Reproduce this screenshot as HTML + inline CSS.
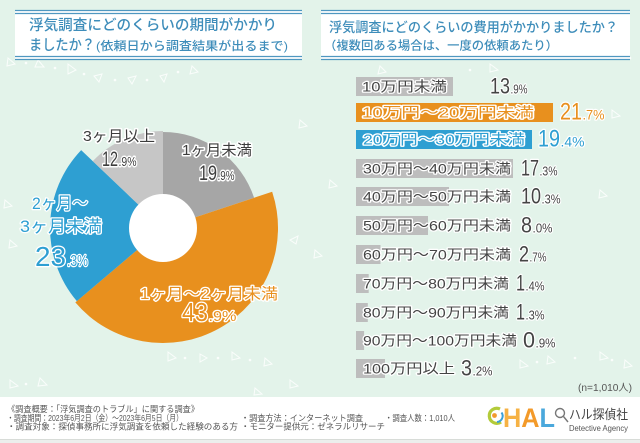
<!DOCTYPE html>
<html><head><meta charset="utf-8"><style>
html,body{margin:0;padding:0;background:#e3f3ea;}
svg{display:block;}
text{font-family:"Liberation Sans","Noto Sans CJK JP",sans-serif;}
.t{fill:#3e8dba;font-weight:500;}
.dk{fill:#3d3d3d;stroke:#fff;stroke-width:3;paint-order:stroke;stroke-linejoin:round;}
.dk2{fill:#444;stroke:#fff;stroke-width:2.5;paint-order:stroke;stroke-linejoin:round;}
.or{fill:#e8901e;stroke:#fff;stroke-width:2.6;paint-order:stroke;stroke-linejoin:round;}
.bl{fill:#2e9fd2;stroke:#fff;stroke-width:2.6;paint-order:stroke;stroke-linejoin:round;}
.ft{fill:#555;font-size:8.5px;}
</style></head><body>
<svg width="640" height="443" viewBox="0 0 640 443" xmlns="http://www.w3.org/2000/svg">
<rect width="640" height="443" fill="#e3f3ea"/>
<!-- decorations -->
<g fill="none" stroke="#fff" stroke-width="1" opacity="0.85">
<path d="M8 58 L15 64 L7 66 Z"/><path d="M38 60 L44 67 L35 67 Z"/><path d="M68 64 L76 70 L68 74 Z"/>
<path d="M94 76 L102 74 L99 82 Z"/><path d="M128 78 L136 76 L132 84 Z"/><path d="M160 76 L167 74 L164 82 Z"/>
<path d="M192 66 L198 72 L190 74 Z"/><path d="M300 120 L307 126 L299 128 Z"/><path d="M290 240 L298 236 L296 244 Z"/>
<path d="M315 250 L322 256 L314 258 Z"/><path d="M10 240 L17 246 L9 248 Z"/><path d="M5 200 L12 206 L4 208 Z"/>
<path d="M168 352 L176 358 L168 361 Z"/><path d="M200 354 L207 358 L200 362 Z"/><path d="M232 352 L240 358 L232 360 Z"/>
<path d="M265 358 L272 364 L264 366 Z"/><path d="M10 380 L18 386 L10 388 Z"/><path d="M40 378 L47 385 L38 386 Z"/>
<path d="M290 380 L298 386 L290 388 Z"/><path d="M255 388 L262 394 L254 395 Z"/><path d="M520 360 L528 366 L520 368 Z"/>
<path d="M548 356 L555 362 L547 364 Z"/><path d="M600 352 L608 358 L600 360 Z"/><path d="M625 360 L632 366 L624 368 Z"/>
<path d="M380 66 L386 72 L378 74 Z"/><path d="M490 64 L498 70 L490 72 Z"/><path d="M612 110 L620 116 L612 118 Z"/>
<path d="M600 190 L607 196 L599 198 Z"/><path d="M330 180 L337 186 L329 188 Z"/>
</g>
<g fill="#fff" opacity="0.85">
<circle cx="26" cy="63" r="1.3"/><circle cx="55" cy="68" r="1.3"/><circle cx="84" cy="74" r="1.3"/><circle cx="115" cy="80" r="1.3"/>
<circle cx="147" cy="80" r="1.3"/><circle cx="178" cy="72" r="1.3"/><circle cx="185" cy="358" r="1.3"/><circle cx="218" cy="358" r="1.3"/>
<circle cx="250" cy="360" r="1.3"/><circle cx="26" cy="384" r="1.3"/><circle cx="537" cy="362" r="1.3"/><circle cx="575" cy="358" r="1.3"/>
<circle cx="612" cy="360" r="1.3"/><circle cx="470" cy="70" r="1.3"/><circle cx="630" cy="58" r="1.3"/>
</g>

<!-- Left title -->
<rect x="15" y="10" width="287" height="50" fill="#fff"/>
<g stroke="#4f97c0" stroke-width="1.2">
<line x1="15" x2="302" y1="10.5" y2="10.5"/><line x1="15" x2="302" y1="13.5" y2="13.5"/>
<line x1="15" x2="302" y1="56.5" y2="56.5"/><line x1="15" x2="302" y1="59.5" y2="59.5"/>
</g>
<text class="t" x="29" y="30" font-size="14.5" textLength="248" lengthAdjust="spacingAndGlyphs">浮気調査にどのくらいの期間がかかり</text>
<text class="t" x="29" y="50" font-size="14.5" textLength="66" lengthAdjust="spacingAndGlyphs">ましたか？</text>
<text class="t" x="96" y="50" font-size="12" textLength="192" lengthAdjust="spacingAndGlyphs">(依頼日から調査結果が出るまで)</text>

<!-- Right title -->
<rect x="321" y="10" width="309" height="50" fill="#fff"/>
<g stroke="#4f97c0" stroke-width="1.2">
<line x1="321" x2="630" y1="10.5" y2="10.5"/><line x1="321" x2="630" y1="13.5" y2="13.5"/>
<line x1="321" x2="630" y1="56.5" y2="56.5"/><line x1="321" x2="630" y1="59.5" y2="59.5"/>
</g>
<text class="t" x="329" y="32" font-size="13.5" textLength="289" lengthAdjust="spacingAndGlyphs">浮気調査にどのくらいの費用がかかりましたか？</text>
<text class="t" x="324" y="49.5" font-size="12" textLength="234" lengthAdjust="spacingAndGlyphs">（複数回ある場合は、一度の依頼あたり）</text>

<!-- Donut -->
<path d="M163,228 L163,132 A96,96 0 0 1 254.11,197.76 Z" fill="#a6a6a6"/>
<path d="M163,228 L272.15,191.77 A115,115 0 0 1 75.32,302.42 Z" fill="#e8901e"/>
<path d="M163,228 L76.85,301.12 A113,113 0 0 1 81.17,150.08 Z" fill="#2e9fd2"/>
<path d="M163,228 L92.75,161.11 A97,97 0 0 1 163,131 Z" fill="#c6c6c6"/>
<circle cx="163" cy="228" r="34" fill="#fff"/>

<text class="dk" x="182" y="155" font-size="15" textLength="70" lengthAdjust="spacingAndGlyphs">1ヶ月未満</text>
<text class="dk" x="199" y="180" font-size="21" textLength="18" lengthAdjust="spacingAndGlyphs">19</text>
<text class="dk" x="217.5" y="180" font-size="13" textLength="17" lengthAdjust="spacingAndGlyphs">.9%</text>

<text class="dk" x="83" y="141" font-size="15" textLength="72" lengthAdjust="spacingAndGlyphs">3ヶ月以上</text>
<text class="dk" x="102" y="166" font-size="21" textLength="16" lengthAdjust="spacingAndGlyphs">12</text>
<text class="dk" x="118.5" y="166" font-size="13" textLength="18" lengthAdjust="spacingAndGlyphs">.9%</text>

<text class="bl" x="32" y="209" font-size="17" textLength="56" lengthAdjust="spacingAndGlyphs">2ヶ月〜</text>
<text class="bl" x="20" y="232" font-size="17" textLength="82" lengthAdjust="spacingAndGlyphs">3ヶ月未満</text>
<text class="bl" x="35" y="266" font-size="28" textLength="31" lengthAdjust="spacingAndGlyphs">23</text>
<text class="bl" x="67" y="266" font-size="16" textLength="21" lengthAdjust="spacingAndGlyphs">.3%</text>

<text class="or" x="140" y="299" font-size="15.5" textLength="138" lengthAdjust="spacingAndGlyphs">1ヶ月〜2ヶ月未満</text>
<text class="or" x="182" y="321" font-size="26" textLength="26" lengthAdjust="spacingAndGlyphs">43</text>
<text class="or" x="208.5" y="321" font-size="15" textLength="28" lengthAdjust="spacingAndGlyphs">.9%</text>

<!-- Bars -->
<g fill="#bdbdbd">
<rect x="356" y="77" width="97" height="19"/>
<rect x="356" y="159" width="157" height="19"/>
<rect x="356" y="187" width="93" height="19"/>
<rect x="356" y="216" width="72" height="19"/>
<rect x="356" y="245" width="24.5" height="19"/>
<rect x="356" y="274" width="12.7" height="19"/>
<rect x="356" y="303" width="11.8" height="19"/>
<rect x="356" y="331" width="8.1" height="19"/>
<rect x="356" y="359" width="29" height="19"/>
</g>
<rect x="356" y="103" width="197" height="19" fill="#e8901e"/>
<rect x="356" y="130" width="176" height="19" fill="#2e9fd2"/>

<text class="dk2" x="362" y="91.5" font-size="14" textLength="85" lengthAdjust="spacingAndGlyphs">10万円未満</text>
<text class="or" x="362" y="117.5" font-size="14.5" textLength="172" lengthAdjust="spacingAndGlyphs">10万円〜20万円未満</text>
<text class="bl" x="363" y="144.5" font-size="14.5" textLength="162" lengthAdjust="spacingAndGlyphs">20万円〜30万円未満</text>
<text class="dk2" x="363" y="173.5" font-size="14" textLength="148" lengthAdjust="spacingAndGlyphs">30万円〜40万円未満</text>
<text class="dk2" x="363" y="201.5" font-size="14" textLength="148" lengthAdjust="spacingAndGlyphs">40万円〜50万円未満</text>
<text class="dk2" x="363" y="230.5" font-size="14" textLength="148" lengthAdjust="spacingAndGlyphs">50万円〜60万円未満</text>
<text class="dk2" x="363" y="259.5" font-size="14" textLength="148" lengthAdjust="spacingAndGlyphs">60万円〜70万円未満</text>
<text class="dk2" x="363" y="288.5" font-size="14" textLength="146" lengthAdjust="spacingAndGlyphs">70万円〜80万円未満</text>
<text class="dk2" x="363" y="317.5" font-size="14" textLength="146" lengthAdjust="spacingAndGlyphs">80万円〜90万円未満</text>
<text class="dk2" x="363" y="345.5" font-size="14" textLength="154" lengthAdjust="spacingAndGlyphs">90万円〜100万円未満</text>
<text class="dk2" x="363" y="373.5" font-size="14" textLength="92" lengthAdjust="spacingAndGlyphs">100万円以上</text>

<!-- values -->
<text class="dk2" x="490" y="93.5" font-size="22" textLength="20" lengthAdjust="spacingAndGlyphs">13</text>
<text class="dk2" x="510.5" y="93.5" font-size="13" textLength="17" lengthAdjust="spacingAndGlyphs">.9%</text>
<text class="or" x="560" y="119.5" font-size="24" textLength="22" lengthAdjust="spacingAndGlyphs">21</text>
<text class="or" x="582.5" y="119.5" font-size="14" textLength="22" lengthAdjust="spacingAndGlyphs">.7%</text>
<text class="bl" x="538" y="146.5" font-size="24" textLength="22" lengthAdjust="spacingAndGlyphs">19</text>
<text class="bl" x="560.5" y="146.5" font-size="14" textLength="24" lengthAdjust="spacingAndGlyphs">.4%</text>
<text class="dk2" x="521" y="175.5" font-size="22" textLength="18" lengthAdjust="spacingAndGlyphs">17</text>
<text class="dk2" x="539.5" y="175.5" font-size="13" textLength="18" lengthAdjust="spacingAndGlyphs">.3%</text>
<text class="dk2" x="521" y="203.5" font-size="22" textLength="20" lengthAdjust="spacingAndGlyphs">10</text>
<text class="dk2" x="541.5" y="203.5" font-size="13" textLength="19" lengthAdjust="spacingAndGlyphs">.3%</text>
<text class="dk2" x="521" y="232.5" font-size="22" textLength="11" lengthAdjust="spacingAndGlyphs">8</text>
<text class="dk2" x="532.5" y="232.5" font-size="13" textLength="20" lengthAdjust="spacingAndGlyphs">.0%</text>
<text class="dk2" x="519" y="261.5" font-size="22" textLength="10" lengthAdjust="spacingAndGlyphs">2</text>
<text class="dk2" x="529.5" y="261.5" font-size="13" textLength="17" lengthAdjust="spacingAndGlyphs">.7%</text>
<text class="dk2" x="516" y="290.5" font-size="22" textLength="9" lengthAdjust="spacingAndGlyphs">1</text>
<text class="dk2" x="525.5" y="290.5" font-size="13" textLength="19" lengthAdjust="spacingAndGlyphs">.4%</text>
<text class="dk2" x="516" y="319.5" font-size="22" textLength="9" lengthAdjust="spacingAndGlyphs">1</text>
<text class="dk2" x="525.5" y="319.5" font-size="13" textLength="19" lengthAdjust="spacingAndGlyphs">.3%</text>
<text class="dk2" x="523" y="347.5" font-size="22" textLength="12" lengthAdjust="spacingAndGlyphs">0</text>
<text class="dk2" x="535.5" y="347.5" font-size="13" textLength="20" lengthAdjust="spacingAndGlyphs">.9%</text>
<text class="dk2" x="461" y="375.5" font-size="22" textLength="11" lengthAdjust="spacingAndGlyphs">3</text>
<text class="dk2" x="472.5" y="375.5" font-size="13" textLength="20" lengthAdjust="spacingAndGlyphs">.2%</text>

<text x="578" y="391" font-size="10" fill="#555" textLength="54" lengthAdjust="spacingAndGlyphs">(n=1,010人)</text>

<!-- Footer -->
<rect x="0" y="397" width="640" height="42" fill="#fff"/>
<rect x="0" y="439" width="640" height="4" fill="#eceeec"/>
<line x1="0" x2="640" y1="439.5" y2="439.5" stroke="#d8dcd8" stroke-width="1"/>
<text class="ft" x="7" y="412" textLength="192" lengthAdjust="spacingAndGlyphs">《調査概要：「浮気調査のトラブル」に関する調査》</text>
<text class="ft" x="7" y="421" textLength="176" lengthAdjust="spacingAndGlyphs">・調査期間：2023年6月2日（金）〜2023年6月5日（月）</text>
<text class="ft" x="7" y="429.5" textLength="231" lengthAdjust="spacingAndGlyphs">・調査対象：探偵事務所に浮気調査を依頼した経験のある方</text>
<text class="ft" x="241" y="421" textLength="122" lengthAdjust="spacingAndGlyphs">・調査方法：インターネット調査</text>
<text class="ft" x="241" y="429.5" textLength="144" lengthAdjust="spacingAndGlyphs">・モニター提供元：ゼネラルリサーチ</text>
<text class="ft" x="385" y="421" textLength="70" lengthAdjust="spacingAndGlyphs">・調査人数：1,010人</text>

<!-- Logo -->
<path d="M500,409 A7.5,7.5 0 1 0 501,422" fill="none" stroke="#b3cb3a" stroke-width="3.2"/>
<path d="M501.5,412.5 A6,6 0 0 1 497,422" fill="none" stroke="#3aa0d8" stroke-width="2"/>
<circle cx="494.5" cy="415.5" r="2.4" fill="#f29a2e"/>
<text x="503" y="427" font-size="27" font-weight="bold" textLength="52" lengthAdjust="spacingAndGlyphs"><tspan fill="#f6b244">H</tspan><tspan fill="#f39a2a">A</tspan><tspan fill="#4aa8dc">L</tspan></text>
<circle cx="560" cy="413" r="4.5" fill="none" stroke="#777" stroke-width="1.4"/>
<line x1="563.5" y1="416.5" x2="568" y2="422" stroke="#777" stroke-width="1.4"/>
<text x="569" y="419" font-size="13" fill="#444" textLength="59" lengthAdjust="spacingAndGlyphs">ハル探偵社</text>
<text x="569" y="431" font-size="8" fill="#555" textLength="59" lengthAdjust="spacingAndGlyphs">Detective Agency</text>
</svg>
</body></html>
